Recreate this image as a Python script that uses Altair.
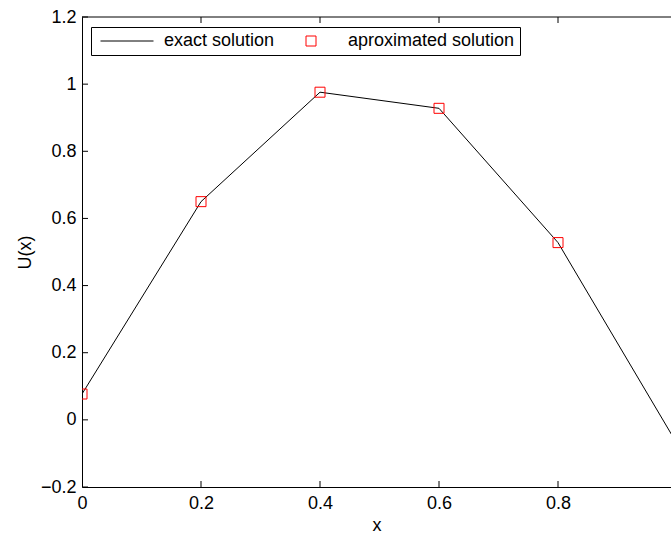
import altair as alt
import pandas as pd

# ---- data ----
x_exact = [0.0, 0.2, 0.4, 0.6, 0.8, 1.0]
u_exact = [0.077, 0.650, 0.976, 0.928, 0.528, -0.071]
x_approx = [0.0, 0.2, 0.4, 0.6, 0.8]
u_approx = [0.077, 0.650, 0.976, 0.928, 0.528]
series_names = ["exact solution", "aproximated solution"]
x_ticks = [0.0, 0.2, 0.4, 0.6, 0.8]
y_ticks = [-0.2, 0.0, 0.2, 0.4, 0.6, 0.8, 1.0, 1.2]

# ---- layout ----
W, H = 589, 470
X_DOMAIN = [0.0, 589 / 595]   # plot area is cut at the window edge
FONT = "Liberation Sans"
TICK = 6

exact_df = pd.DataFrame({"x": x_exact, "u": u_exact, "series": series_names[0]})
approx_df = pd.DataFrame({"x": x_approx, "u": u_approx, "series": series_names[1]})
xt_df = pd.DataFrame({"t": x_ticks})
yt_df = pd.DataFrame({"t": y_ticks})
dummy = pd.DataFrame({"a": [0]})

xscale = alt.Scale(domain=X_DOMAIN, nice=False, zero=False)
yscale = alt.Scale(domain=[-0.2, 1.2], nice=False, zero=False)
color_scale = alt.Scale(domain=series_names, range=["black", "red"])
shape_scale = alt.Scale(domain=series_names, range=["M-5.3,0H5.3", "square"])

legend = alt.Legend(
    title=None, orient="none", legendX=9, legendY=10, direction="horizontal",
    strokeColor="black", fillColor="white", padding=5,
    symbolOffset=22, labelOffset=28, columnPadding=5, labelLimit=400,
    labelFont=FONT, labelFontSize=18, labelColor="black",
    symbolSize=100, symbolStrokeWidth=1, symbolOpacity=1,
)

x_axis = alt.Axis(values=x_ticks, format="~g", title="x", tickSize=0,
                  labelPadding=7, grid=False, labelFlush=False)
y_axis = alt.Axis(values=y_ticks, format="~g", title="U(x)", tickSize=0,
                  labelPadding=6, grid=False, titlePadding=6, labelFlush=False)

line = alt.Chart(exact_df).mark_line(strokeWidth=1, clip=True, opacity=1).encode(
    x=alt.X("x:Q", scale=xscale, axis=x_axis),
    y=alt.Y("u:Q", scale=yscale, axis=y_axis),
    color=alt.Color("series:N", scale=color_scale, legend=legend),
)

points = alt.Chart(approx_df).mark_point(
    shape="square", filled=False, size=100, strokeWidth=1, clip=True, opacity=1
).encode(
    x=alt.X("x:Q"),
    y=alt.Y("u:Q"),
    color=alt.Color("series:N", scale=color_scale, legend=legend),
    shape=alt.Shape("series:N", scale=shape_scale, legend=legend),
)

bottom_ticks = alt.Chart(xt_df).mark_rule(color="black", strokeWidth=1, clip=True).encode(
    x=alt.X("t:Q"), y=alt.value(H), y2=alt.value(H - TICK))
top_ticks = alt.Chart(xt_df).mark_rule(color="black", strokeWidth=1, clip=True).encode(
    x=alt.X("t:Q"), y=alt.value(0), y2=alt.value(TICK))
left_ticks = alt.Chart(yt_df).mark_rule(color="black", strokeWidth=1).encode(
    y=alt.Y("t:Q"), x=alt.value(0), x2=alt.value(TICK))
top_border = alt.Chart(dummy).mark_rule(color="black", strokeWidth=1).encode(
    x=alt.value(0), x2=alt.value(W), y=alt.value(0))

chart = alt.layer(
    line, points, bottom_ticks, top_ticks, left_ticks, top_border
).properties(
    width=W, height=H,
    autosize=alt.AutoSizeParams(type="none"),
    padding={"left": 82, "top": 17, "right": 0, "bottom": 46},
    background="white",
).configure_axis(
    labelFont=FONT, labelFontSize=18, labelColor="black",
    titleFont=FONT, titleFontSize=18, titleFontWeight="normal", titleColor="black",
    domainColor="black", domainWidth=1,
).configure_view(stroke=None)

chart.save("out.html", embed_options={"renderer": "svg", "actions": False})
